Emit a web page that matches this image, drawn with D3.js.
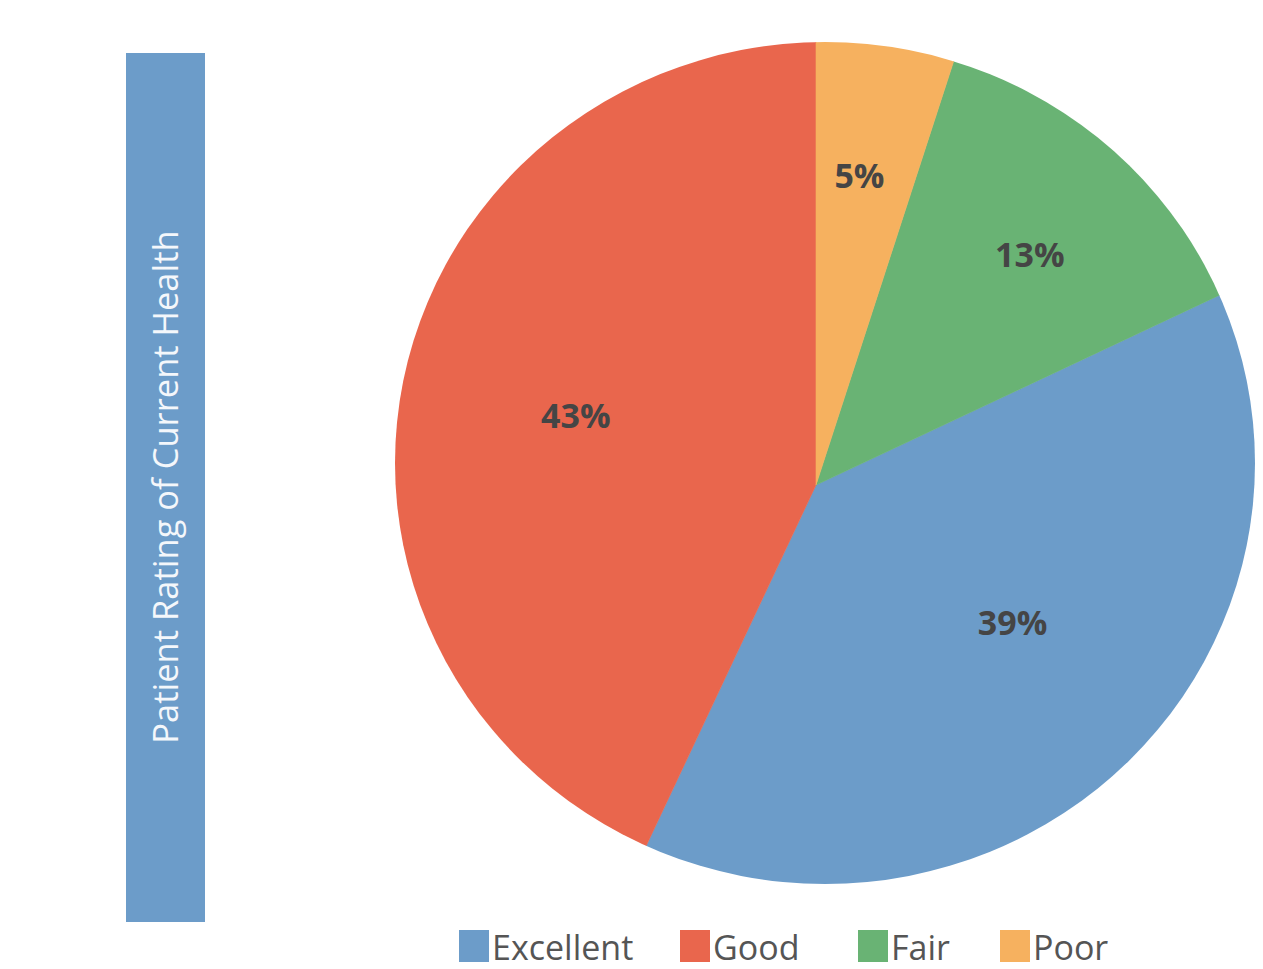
<!DOCTYPE html>
<html>
<head>
<meta charset="utf-8">
<script src="https://cdn.jsdelivr.net/npm/d3@7"></script>
<style>
  html, body { margin: 0; padding: 0; background: #ffffff; }
  svg { display: block; }
</style>
</head>
<body>
<svg id="chart" width="1263" height="969"></svg>
<script>
// Patient rating of current health, share of respondents (%)
const categories = ["Excellent", "Good", "Fair", "Poor"];
const values = [39, 43, 13, 5];
const colors = ["#6c9cc9", "#e9664d", "#69b374", "#f6b15f"];
// clockwise drawing order starting at 12 o'clock
const sliceOrder = ["Poor", "Fair", "Excellent", "Good"];
const axisTitle = "Patient Rating of Current Health";

const svg = d3.select("#chart");

// layout
const outline = { cx: 825, cy: 463, rx: 430, ry: 421 };
const hub = { x: 816, y: 485 };
const labelLayout = {
  Poor:      { r: 312, shift: -1 },
  Fair:      { r: 314, shift: 1.5 },
  Excellent: { r: 240, shift: -10 },
  Good:      { r: 250, shift: 3.5 }
};
const legendLayout = { x: [459, 680, 858, 1000], y: 930 };
const font = "'Open Sans', 'Noto Sans', sans-serif";

const data = categories.map((c, i) => ({ category: c, value: values[i] }));
const color = d3.scaleOrdinal().domain(categories).range(colors);

const pie = d3.pie()
  .value(d => d.value)
  .sort((a, b) => sliceOrder.indexOf(a.category) - sliceOrder.indexOf(b.category));
const arcs = pie(data);

// outline shape the wedges are cut by
svg.append("defs").append("clipPath").attr("id", "pie-clip")
  .append("ellipse")
  .attr("cx", outline.cx).attr("cy", outline.cy)
  .attr("rx", outline.rx).attr("ry", outline.ry);

const arcGen = d3.arc().innerRadius(0).outerRadius(700);

const g = svg.append("g").attr("clip-path", "url(#pie-clip)");
g.append("g").attr("transform", `translate(${hub.x},${hub.y})`)
  .selectAll("path")
  .data(arcs)
  .join("path")
  .attr("d", arcGen)
  .attr("fill", d => color(d.data.category))
  .attr("stroke", d => color(d.data.category))
  .attr("stroke-width", 0.6);

// percentage labels
const labels = svg.append("g").attr("transform", `translate(${hub.x},${hub.y})`);
labels.selectAll("text")
  .data(arcs)
  .join("text")
  .attr("transform", d => {
    const L = labelLayout[d.data.category];
    const a = (d.startAngle + d.endAngle) / 2 + L.shift * Math.PI / 180;
    return `translate(${L.r * Math.sin(a)},${-L.r * Math.cos(a)})`;
  })
  .attr("text-anchor", "middle")
  .attr("dy", "0.36em")
  .attr("font-family", font)
  .attr("font-weight", 700)
  .attr("font-size", 34)
  .attr("fill", "#454545")
  .text(d => d.data.value + "%");

// vertical title band
const band = { x: 126, y: 53, w: 79, h: 869 };
svg.append("rect")
  .attr("x", band.x).attr("y", band.y)
  .attr("width", band.w).attr("height", band.h)
  .attr("fill", "#6c9cc9");
svg.append("text")
  .attr("transform", `translate(${band.x + band.w / 2},${hub.y + 2}) rotate(-90)`)
  .attr("text-anchor", "middle")
  .attr("dy", "0.36em")
  .attr("font-family", font)
  .attr("font-size", 34.5)
  .attr("fill", "#f4f7fb")
  .text(axisTitle);

// legend
const items = svg.append("g")
  .selectAll("g")
  .data(categories)
  .join("g")
  .attr("transform", (d, i) => `translate(${legendLayout.x[i]},${legendLayout.y})`);
items.append("rect")
  .attr("width", 30).attr("height", 32)
  .attr("fill", d => color(d));
items.append("text")
  .attr("x", 33).attr("y", 30)
  .attr("font-family", font)
  .attr("font-size", 34)
  .attr("fill", "#555555")
  .text(d => d);
</script>
</body>
</html>
